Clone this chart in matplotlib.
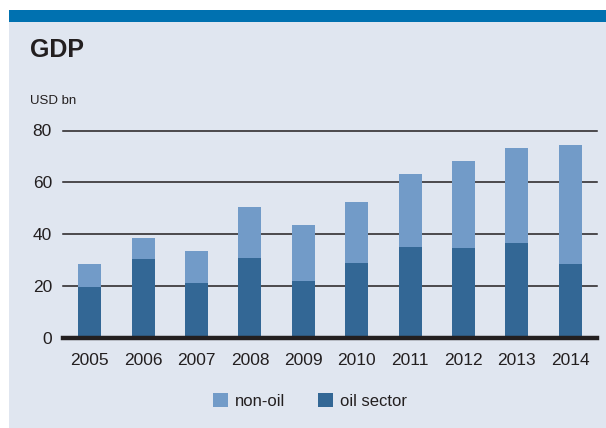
import matplotlib
matplotlib.use("Agg")
import matplotlib.pyplot as plt
from matplotlib.patches import Rectangle
import numpy as np

years = ["2005", "2006", "2007", "2008", "2009", "2010", "2011", "2012", "2013", "2014"]
oil_sector = [19.5, 30.5, 21.3, 31.0, 22.1, 29.0, 35.2, 34.8, 36.7, 28.6]
total_gdp = [28.6, 38.6, 33.6, 50.6, 43.6, 52.5, 63.3, 68.3, 73.3, 74.4]
non_oil = [t - o for t, o in zip(total_gdp, oil_sector)]
y_ticks = [0, 20, 40, 60, 80]

BG = "#e0e6f0"
BAND = "#0071b0"
DARK = "#336795"
LIGHT = "#729bc8"
INK = "#231f20"

plt.rcParams["font.family"] = ["Liberation Sans Narrow", "Liberation Sans", "DejaVu Sans"]

W, H = 606, 428
fig = plt.figure(figsize=(W / 100, H / 100), dpi=100)
fig.patch.set_facecolor("white")

# background panel and top band
fig.patches.append(Rectangle((9 / W, 0), 1 - 9 / W, 1 - 10 / H, transform=fig.transFigure,
                             facecolor=BG, edgecolor="none", zorder=-2))
fig.patches.append(Rectangle((9 / W, 1 - 22 / H), 1 - 9 / W, 12 / H, transform=fig.transFigure,
                             facecolor=BAND, edgecolor="none", zorder=-1))

fig.text(30 / W, 1 - 50 / H, "GDP", fontsize=18, fontweight="bold", color=INK, va="center", ha="left")
fig.text(30 / W, 1 - 101 / H, "USD bn", fontsize=9.5, color=INK, va="center", ha="left")

left, right = 63 / W, 597 / W
bottom, top = 1 - 338 / H, 1 - 130.5 / H
ax = fig.add_axes([left, bottom, right - left, top - bottom])
ax.set_facecolor("none")

x = np.arange(len(years))
ax.bar(x, oil_sector, width=0.43, color=DARK, zorder=2, label="oil sector")
ax.bar(x, non_oil, width=0.43, bottom=oil_sector, color=LIGHT, zorder=2, label="non-oil")

for t in y_ticks[1:]:
    ax.axhline(t, color=INK, linewidth=1.1, zorder=1, clip_on=False)
ax.axhline(0, color=INK, linewidth=3.2, zorder=3, clip_on=False)

ax.set_xlim(-0.5, len(years) - 0.5)
ax.set_ylim(0, 80)
ax.set_yticks(y_ticks)
ax.set_yticklabels([str(t) for t in y_ticks])
ax.set_xticks(x)
ax.set_xticklabels(years)
ax.tick_params(axis="both", length=0, labelsize=12.5, colors=INK)
ax.tick_params(axis="y", pad=8)
ax.tick_params(axis="x", pad=11)
for s in ax.spines.values():
    s.set_visible(False)

handles, labels = ax.get_legend_handles_labels()
leg = fig.legend(handles[::-1], labels[::-1], loc="center", bbox_to_anchor=(310 / W, 1 - 401 / H),
                 ncol=2, frameon=False, fontsize=12, handlelength=0.9, handleheight=0.9,
                 handletextpad=0.4, columnspacing=2.0)
for txt in leg.get_texts():
    txt.set_color(INK)

fig.savefig("out.png", dpi=100, facecolor=fig.get_facecolor())
